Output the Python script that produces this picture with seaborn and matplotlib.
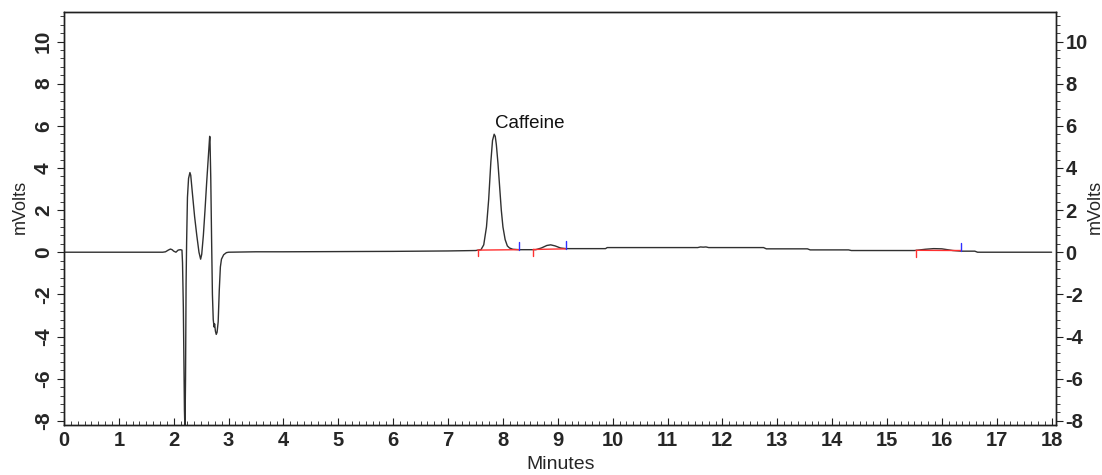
import matplotlib
matplotlib.use("Agg")
import numpy as np
import pandas as pd
import matplotlib.pyplot as plt
from matplotlib.ticker import MultipleLocator, AutoMinorLocator
import seaborn as sns

# Chromatogram trace (minutes, mVolts)
time_min = [0.0, 1.0, 1.8, 1.85, 1.9, 1.94, 1.97, 2.0, 2.04, 2.08, 2.12, 2.15,
            2.16, 2.175, 2.195, 2.205, 2.215, 2.225, 2.235, 2.25, 2.27, 2.295,
            2.31, 2.34, 2.38, 2.42, 2.46, 2.49, 2.51, 2.54, 2.57, 2.60, 2.63,
            2.655, 2.66, 2.675, 2.69, 2.705, 2.72, 2.735, 2.745, 2.76, 2.775,
            2.79, 2.81, 2.83, 2.85, 2.87, 2.91, 2.96, 3.0, 3.5, 4.0, 5.0, 6.0,
            7.0, 7.5, 7.6, 7.65, 7.7, 7.74, 7.78, 7.81, 7.84, 7.86, 7.88, 7.91,
            7.94, 7.97, 8.0, 8.04, 8.08, 8.12, 8.18, 8.3, 8.6, 8.7, 8.8, 8.87,
            8.95, 9.05, 9.15, 9.87, 9.9, 11.55, 11.6, 11.65, 11.7, 11.75, 12.75,
            12.8, 13.55, 13.6, 14.3, 14.35, 15.5, 15.7, 15.85, 16.0, 16.1, 16.2,
            16.35, 16.6, 16.65, 18.0]
signal_mv = [0.0, 0.0, 0.0, 0.02, 0.1, 0.15, 0.12, 0.05, 0.0, 0.1, 0.12, 0.1,
             -0.5, -2.6, -7.5, -8.5, -6.0, -1.5, 0.5, 2.6, 3.5, 3.78,
             3.65, 2.8, 1.7, 0.8, 0.0, -0.33, -0.1, 0.8, 2.0, 3.3, 4.5,
             5.5, 5.45, 3.5, 0.6, -2.0, -3.2, -3.55, -3.4, -3.75, -3.9,
             -3.8, -3.3, -1.8, -0.7, -0.33, -0.12, -0.02, 0.0, 0.02, 0.02, 0.03, 0.04,
             0.06, 0.08, 0.12, 0.35, 1.2, 2.5, 4.3, 5.3, 5.6, 5.5, 5.1, 4.2,
             3.1, 2.0, 1.2, 0.6, 0.3, 0.2, 0.14, 0.12, 0.12, 0.2, 0.32, 0.35,
             0.3, 0.2, 0.17, 0.17, 0.22, 0.22, 0.25, 0.24, 0.25, 0.22, 0.22,
             0.16, 0.16, 0.11, 0.11, 0.08, 0.08, 0.14, 0.17, 0.16, 0.12, 0.08,
             0.05, 0.05, 0.0, 0.0]

# Integration marks: red baseline from start to end, red tick at start, blue at end
peak_start = [7.54, 8.55, 15.53]
peak_end = [8.29, 9.15, 16.35]
base_start = [0.10, 0.13, 0.09]
base_end = [0.12, 0.16, 0.08]

peak_name = "Caffeine"
peak_apex_t = 7.85
peak_apex_mv = 5.6

x_ticks = list(range(0, 19))
y_ticks = list(range(-8, 11, 2))

df = pd.DataFrame({"Minutes": time_min, "mVolts": signal_mv})

sns.set_style("ticks")
plt.rcParams["font.family"] = ["Liberation Sans", "DejaVu Sans"]
plt.rcParams["axes.unicode_minus"] = False

fig = plt.figure(figsize=(11.02, 4.75), dpi=100)
ax = fig.add_axes([64 / 1102, 50 / 475, 992 / 1102, 413 / 475])

sns.lineplot(data=df, x="Minutes", y="mVolts", ax=ax, color="#303030",
             linewidth=1.0, sort=False)

# integration baselines and markers
for s, e, bs, be in zip(peak_start, peak_end, base_start, base_end):
    ax.plot([s, e], [bs, be], color="#ff3030", linewidth=1.0)
    ax.plot([s, s], [bs, bs - 0.3], color="#ff3030", linewidth=1.0)
    ax.plot([e, e], [be, be + 0.38], color="#3030ff", linewidth=1.0)

ax.text(peak_apex_t, peak_apex_mv + 0.1, peak_name, fontsize=13.5,
        ha="left", va="bottom", color="#111111")

ax.set_xlim(0, 18.08)
ax.set_ylim(-8.2, 11.4)
ax.set_xticks(x_ticks)
ax.set_yticks(y_ticks)
ax.xaxis.set_minor_locator(AutoMinorLocator(8))
ax.yaxis.set_minor_locator(AutoMinorLocator(5))

for sp in ax.spines.values():
    sp.set_visible(True)
    sp.set_linewidth(1.0)
    sp.set_color("#202020")

ax.tick_params(axis="x", which="both", direction="in", pad=4,
               labelsize=14.5, color="#202020")
ax.tick_params(axis="x", which="major", length=5)
ax.tick_params(axis="x", which="minor", length=3)
ax.tick_params(axis="y", which="both", direction="out", pad=3,
               labelsize=15, color="#202020", labelrotation=90)
ax.tick_params(axis="y", which="major", length=5)
ax.tick_params(axis="y", which="minor", length=3)
for lab in ax.get_xticklabels() + ax.get_yticklabels():
    lab.set_fontweight("bold")
for lab in ax.get_yticklabels():
    lab.set_va("center")

ax2 = ax.twinx()
ax2.set_ylim(ax.get_ylim())
ax2.set_yticks(y_ticks)
ax2.yaxis.set_minor_locator(AutoMinorLocator(5))
ax2.tick_params(axis="y", which="both", direction="out", pad=2,
                labelsize=14.5, color="#202020")
ax2.tick_params(axis="y", which="major", length=5)
ax2.tick_params(axis="y", which="minor", length=3)
for lab in ax2.get_yticklabels():
    lab.set_fontweight("bold")
for sp in ax2.spines.values():
    sp.set_linewidth(1.0)
    sp.set_color("#202020")

ax.set_xlabel("Minutes", fontsize=14)
ax.xaxis.set_label_coords(0.501, -0.096)
ax.xaxis.label.set_va("center")
ax.set_ylabel("mVolts", fontsize=13)
ax.yaxis.set_label_coords(-0.0444, 0.528)
ax.yaxis.label.set_va("center")
ax2.set_ylabel("mVolts", fontsize=13)
ax2.yaxis.set_label_coords(1.040, 0.528)
ax2.yaxis.label.set_va("center")

fig.savefig("out.png", dpi=100)
